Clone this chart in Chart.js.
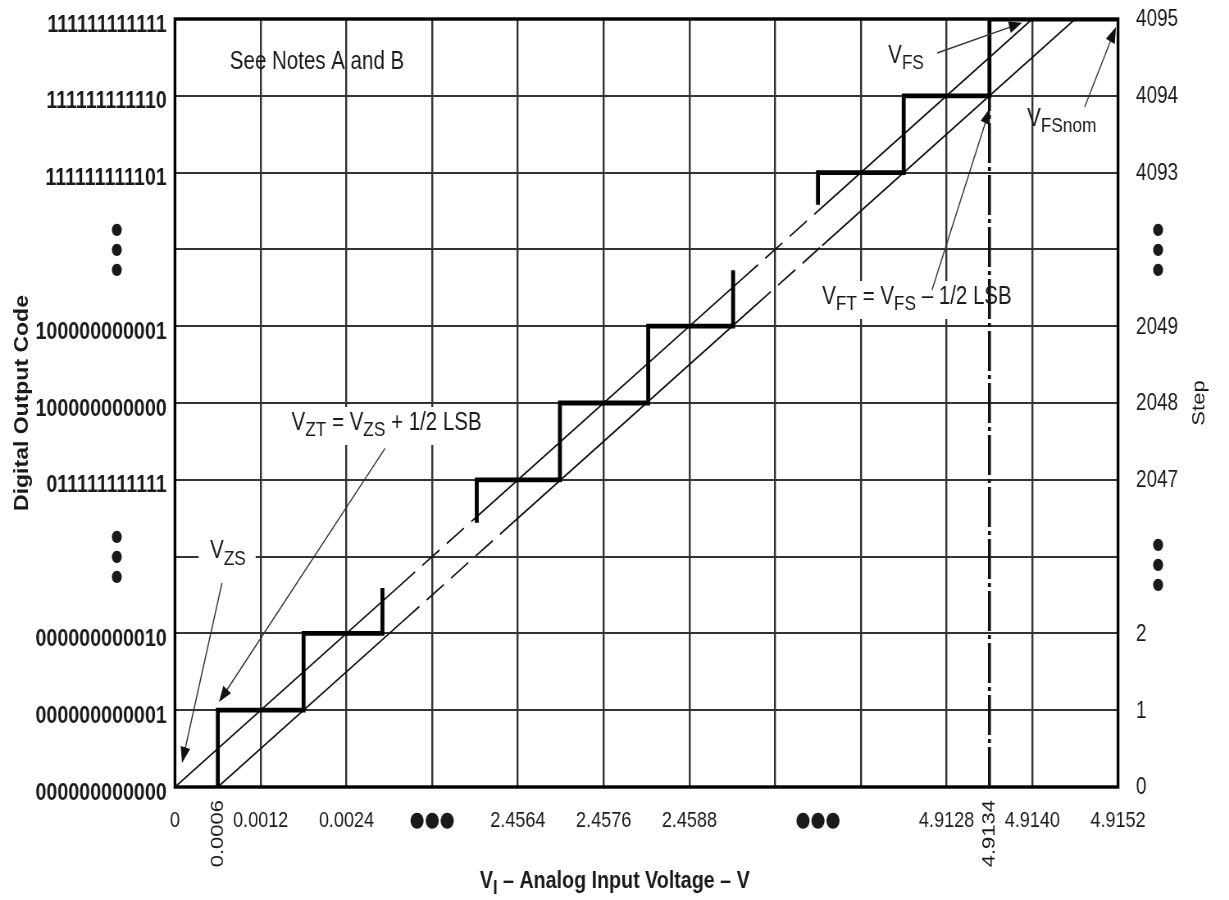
<!DOCTYPE html>
<html>
<head>
<meta charset="utf-8">
<script src="https://cdn.jsdelivr.net/npm/chart.js@4.4.1/dist/chart.umd.min.js"></script>
<style>
  html, body { margin: 0; padding: 0; background: #fff; overflow: hidden; }
  /* the original figure is squeezed horizontally; draw wide and squeeze the same way */
  #adc { display: block; transform: scaleX(0.8199); transform-origin: 0 0; }
</style>
</head>
<body>
<canvas id="adc" width="1499" height="900"></canvas>
<script>
// x runs over grid columns (one column = 0.0012 V = 1 LSB), y over code rows
const DOTS = '\u25CF\u25CF\u25CF';
const SANS = "'Liberation Sans', Arial, sans-serif";

const voltTickPos = [0, 1, 2, 3, 4, 5, 6, 7.5, 9, 10, 11];
const voltTickLabels = ['0', '0.0012', '0.0024', DOTS, '2.4564', '2.4576', '2.4588', DOTS, '4.9128', '4.9140', '4.9152'];
const voltRotPos = [0.5, 9.5];
const voltRotLabels = ['0.0006', '4.9134'];

const codeLabels = ['000000000000', '000000000001', '000000000010', '', '011111111111', '100000000000',
  '100000000001', '', '111111111101', '111111111110', '111111111111'];
const stepLabels = ['0', '1', '2', '', '2047', '2048', '2049', '', '4093', '4094', '4095'];
const dotRows = [3, 7];

// actual transfer staircase
const stairLowX = [0.5, 0.5, 1.5, 1.5, 2.42, 2.42];
const stairLowY = [0, 1, 1, 2, 2, 2.59];
const stairMidX = [3.52, 3.52, 4.49, 4.49, 5.52, 5.52, 6.51, 6.51];
const stairMidY = [3.44, 4, 4, 5, 5, 6, 6, 6.73];
const stairTopX = [7.5, 7.5, 8.5, 8.5, 9.5, 9.5, 11];
const stairTopY = [7.58, 8, 8, 9, 9, 10, 10];

// ideal lines (through tread centres and through tread ends)
const idealSolidX = [0, 2.6, null, 3.5, 6.6, null, 7.5, 10];
const idealSolidY = [0, 2.6, null, 3.5, 6.6, null, 7.5, 10];
const idealDashX = [2.6, 3.5, null, 6.6, 7.5];
const idealDashY = [2.6, 3.5, null, 6.6, 7.5];
const shiftSolidX = [0.5, 2.65, null, 3.95, 6.75, null, 7.55, 10.5];
const shiftSolidY = [0, 2.15, null, 3.45, 6.25, null, 7.05, 10];
const shiftDashX = [2.65, 3.95, null, 6.75, 7.55];
const shiftDashY = [2.15, 3.45, null, 6.25, 7.05];

// full-scale transition marker
const vftX = [9.5, 9.5];
const vftY = [0, 9];

function pts(xs, ys) {
  return xs.map((x, i) => (x === null ? { x: 0, y: null } : { x: x, y: ys[i] }));
}

// notes and arrows, in chart units
const notes = [
  { text: 'See Notes A and B', u: 0.64, v: 9.44, box: false },
  { text: 'V_{FS}', u: 8.32, v: 9.52, box: false },
  { text: 'V_{FSnom}', u: 9.94, v: 8.70, box: false },
  { text: 'V_{FT} = V_{FS} \u2013 1/2 LSB', u: 7.55, v: 6.38, box: true },
  { text: 'V_{ZT} = V_{ZS} + 1/2 LSB', u: 1.36, v: 4.74, box: true },
  { text: 'V_{ZS}', u: 0.41, v: 3.07, box: true },
];
const arrows = [
  { from: [0.548, 2.656], to: [0.082, 0.3125] },
  { from: [2.45, 4.41], to: [0.513, 1.107] },
  { from: [8.83, 6.47], to: [9.507, 8.84] },
  { from: [8.89, 9.557], to: [9.88, 9.95] },
  { from: [10.61, 8.85], to: [10.976, 9.896] },
];

function richParts(str) {
  const parts = [];
  const re = /_\{([^}]*)\}/g;
  let last = 0, m;
  while ((m = re.exec(str))) {
    if (m.index > last) parts.push({ t: str.slice(last, m.index), sub: false });
    parts.push({ t: m[1], sub: true });
    last = re.lastIndex;
  }
  if (last < str.length) parts.push({ t: str.slice(last), sub: false });
  return parts;
}

function drawRich(ctx, str, x, y, size, weight, draw) {
  let cx = x;
  richParts(str).forEach((p) => {
    const s = p.sub ? Math.round(size * 0.85) : size;
    ctx.font = weight + ' ' + s + 'px ' + SANS;
    if (draw) ctx.fillText(p.t, cx, y + (p.sub ? size * 0.3 : 0));
    cx += ctx.measureText(p.t).width;
  });
  return cx - x;
}

const overlay = {
  id: 'overlay',
  beforeDatasetsDraw(chart) {
    const { ctx, chartArea: a } = chart;
    const xs = chart.scales.x, ys = chart.scales.y;
    ctx.save();
    // white boxes behind boxed notes
    ctx.textBaseline = 'middle';
    notes.forEach((n) => {
      if (!n.box) return;
      const x = xs.getPixelForValue(n.u), y = ys.getPixelForValue(n.v);
      const w = drawRich(ctx, n.text, x, y, 25, 'normal', false);
      ctx.fillStyle = '#fff';
      ctx.fillRect(x - 14, y - 16, w + 26, 38);
    });
    // frame
    ctx.strokeStyle = '#000';
    ctx.lineWidth = 3.4;
    ctx.strokeRect(a.left, a.top, a.right - a.left, a.bottom - a.top);
    ctx.restore();
  },
  afterDatasetsDraw(chart) {
    const { ctx, chartArea: a } = chart;
    const xs = chart.scales.x, ys = chart.scales.y, y2 = chart.scales.y2;
    ctx.save();

    // arrows
    ctx.strokeStyle = '#333';
    ctx.fillStyle = '#111';
    ctx.lineWidth = 1.4;
    arrows.forEach((ar) => {
      const x0 = xs.getPixelForValue(ar.from[0]), y0 = ys.getPixelForValue(ar.from[1]);
      const x1 = xs.getPixelForValue(ar.to[0]), y1 = ys.getPixelForValue(ar.to[1]);
      const ang = Math.atan2(y1 - y0, x1 - x0);
      const c = Math.cos(ang), s = Math.sin(ang);
      ctx.beginPath();
      ctx.moveTo(x0, y0);
      ctx.lineTo(x1 - 8 * c, y1 - 8 * s);
      ctx.stroke();
      ctx.beginPath();
      ctx.moveTo(x1, y1);
      ctx.lineTo(x1 - 16 * c + 6 * s, y1 - 16 * s - 6 * c);
      ctx.lineTo(x1 - 16 * c - 6 * s, y1 - 16 * s + 6 * c);
      ctx.closePath();
      ctx.fill();
    });

    // notes
    ctx.fillStyle = '#1a1a1a';
    ctx.textBaseline = 'middle';
    ctx.textAlign = 'left';
    notes.forEach((n) => {
      drawRich(ctx, n.text, xs.getPixelForValue(n.u), ys.getPixelForValue(n.v), 25, 'normal', true);
    });

    // vertical tick labels under the axis
    ctx.font = '22px ' + SANS;
    voltRotPos.forEach((p, i) => {
      ctx.save();
      ctx.translate(xs.getPixelForValue(p), a.bottom + 13);
      ctx.rotate(-Math.PI / 2);
      ctx.textAlign = 'right';
      ctx.textBaseline = 'middle';
      ctx.fillText(voltRotLabels[i], 0, 0);
      ctx.restore();
    });

    // stacked dots on both code axes
    ctx.font = '16px DejaVu Sans, sans-serif';
    ctx.textAlign = 'center';
    dotRows.forEach((r) => {
      const yc = ys.getPixelForValue(r);
      [-20, 0, 20].forEach((dy) => {
        ctx.fillText('\u25CF', ys.right - 71, yc + dy);
        ctx.fillText('\u25CF', y2.left + 49, yc + dy + (r === 3 ? 8 : 0));
      });
    });

    // x axis title with subscript
    ctx.textAlign = 'left';
    const title = 'V_{I} \u2013 Analog Input Voltage \u2013 V';
    const tw = drawRich(ctx, title, 0, 0, 24, 'bold', false);
    drawRich(ctx, title, xs.getPixelForValue(5.13) - tw / 2, a.bottom + 94, 24, 'bold', true);

    // right axis title
    ctx.save();
    ctx.translate(y2.right - 36, (a.top + a.bottom) / 2);
    ctx.rotate(-Math.PI / 2);
    ctx.textAlign = 'center';
    ctx.font = '22px ' + SANS;
    ctx.fillText('Step', 0, 0);
    ctx.restore();

    ctx.restore();
  },
};

const lineBase = { pointRadius: 0, tension: 0, fill: false, spanGaps: false };

new Chart(document.getElementById('adc'), {
  type: 'line',
  data: {
    datasets: [
      Object.assign({ data: pts(stairLowX, stairLowY), borderColor: '#000', borderWidth: 4.8 }, lineBase),
      Object.assign({ data: pts(stairMidX, stairMidY), borderColor: '#000', borderWidth: 4.8 }, lineBase),
      Object.assign({ data: pts(stairTopX, stairTopY), borderColor: '#000', borderWidth: 4.8 }, lineBase),
      Object.assign({ data: pts(idealSolidX, idealSolidY), borderColor: '#111', borderWidth: 1.7 }, lineBase),
      Object.assign({ data: pts(idealDashX, idealDashY), borderColor: '#111', borderWidth: 1.7, borderDash: [26, 11] }, lineBase),
      Object.assign({ data: pts(shiftSolidX, shiftSolidY), borderColor: '#111', borderWidth: 1.7 }, lineBase),
      Object.assign({ data: pts(shiftDashX, shiftDashY), borderColor: '#111', borderWidth: 1.7, borderDash: [26, 11] }, lineBase),
      Object.assign({ data: pts(vftX, vftY), borderColor: '#111', borderWidth: 3.6, borderDash: [40, 4, 4, 4] }, lineBase),
    ],
  },
  options: {
    responsive: false,
    animation: false,
    events: [],
    layout: { padding: { top: 19, left: 0, right: 0, bottom: 0 } },
    plugins: { legend: { display: false }, tooltip: { enabled: false } },
    scales: {
      x: {
        type: 'linear',
        min: 0,
        max: 11,
        afterBuildTicks(scale) {
          const t = [0, 1, 2, 3, 4, 5, 6, 7, 7.5, 8, 9, 10, 11];
          scale.ticks = t.map((v) => ({ value: v }));
        },
        afterFit(scale) { scale.height = 113; },
        border: { display: false },
        grid: {
          drawTicks: false,
          lineWidth: 2.4,
          color: (c) => (c.tick && c.tick.value % 1 !== 0 ? 'rgba(0,0,0,0)' : '#333'),
        },
        ticks: {
          autoSkip: false,
          maxRotation: 0,
          padding: 21,
          color: '#1a1a1a',
          callback: (v) => {
            const i = voltTickPos.indexOf(v);
            return i < 0 ? '' : voltTickLabels[i];
          },
          font: (c) => {
            const i = c.tick ? voltTickPos.indexOf(c.tick.value) : -1;
            if (i >= 0 && voltTickLabels[i] === DOTS) return { family: 'DejaVu Sans, sans-serif', size: 21 };
            return { family: SANS, size: 22 };
          },
        },
      },
      y: {
        min: 0,
        max: 10,
        afterFit(scale) { scale.width = 213.4; },
        border: { display: false },
        grid: { drawTicks: true, tickLength: 10, tickColor: 'rgba(0,0,0,0)', lineWidth: 2, color: '#333' },
        ticks: {
          stepSize: 1,
          padding: 0,
          labelOffset: 6,
          color: '#1a1a1a',
          font: { family: SANS, size: 24, weight: 'bold' },
          callback: (v) => codeLabels[v],
        },
        title: {
          display: true,
          text: 'Digital Output Code',
          color: '#1a1a1a',
          font: { family: SANS, size: 23, weight: 'bold' },
          padding: { top: 14, bottom: 0 },
        },
      },
      y2: {
        position: 'right',
        min: 0,
        max: 10,
        afterFit(scale) { scale.width = 135.4; },
        border: { display: false },
        grid: { display: false, drawTicks: true, tickLength: 22 },
        ticks: {
          stepSize: 1,
          padding: 0,
          labelOffset: 1,
          color: '#1a1a1a',
          font: { family: SANS, size: 23 },
          callback: (v) => stepLabels[v],
        },
      },
    },
  },
  plugins: [overlay],
});
</script>
</body>
</html>
